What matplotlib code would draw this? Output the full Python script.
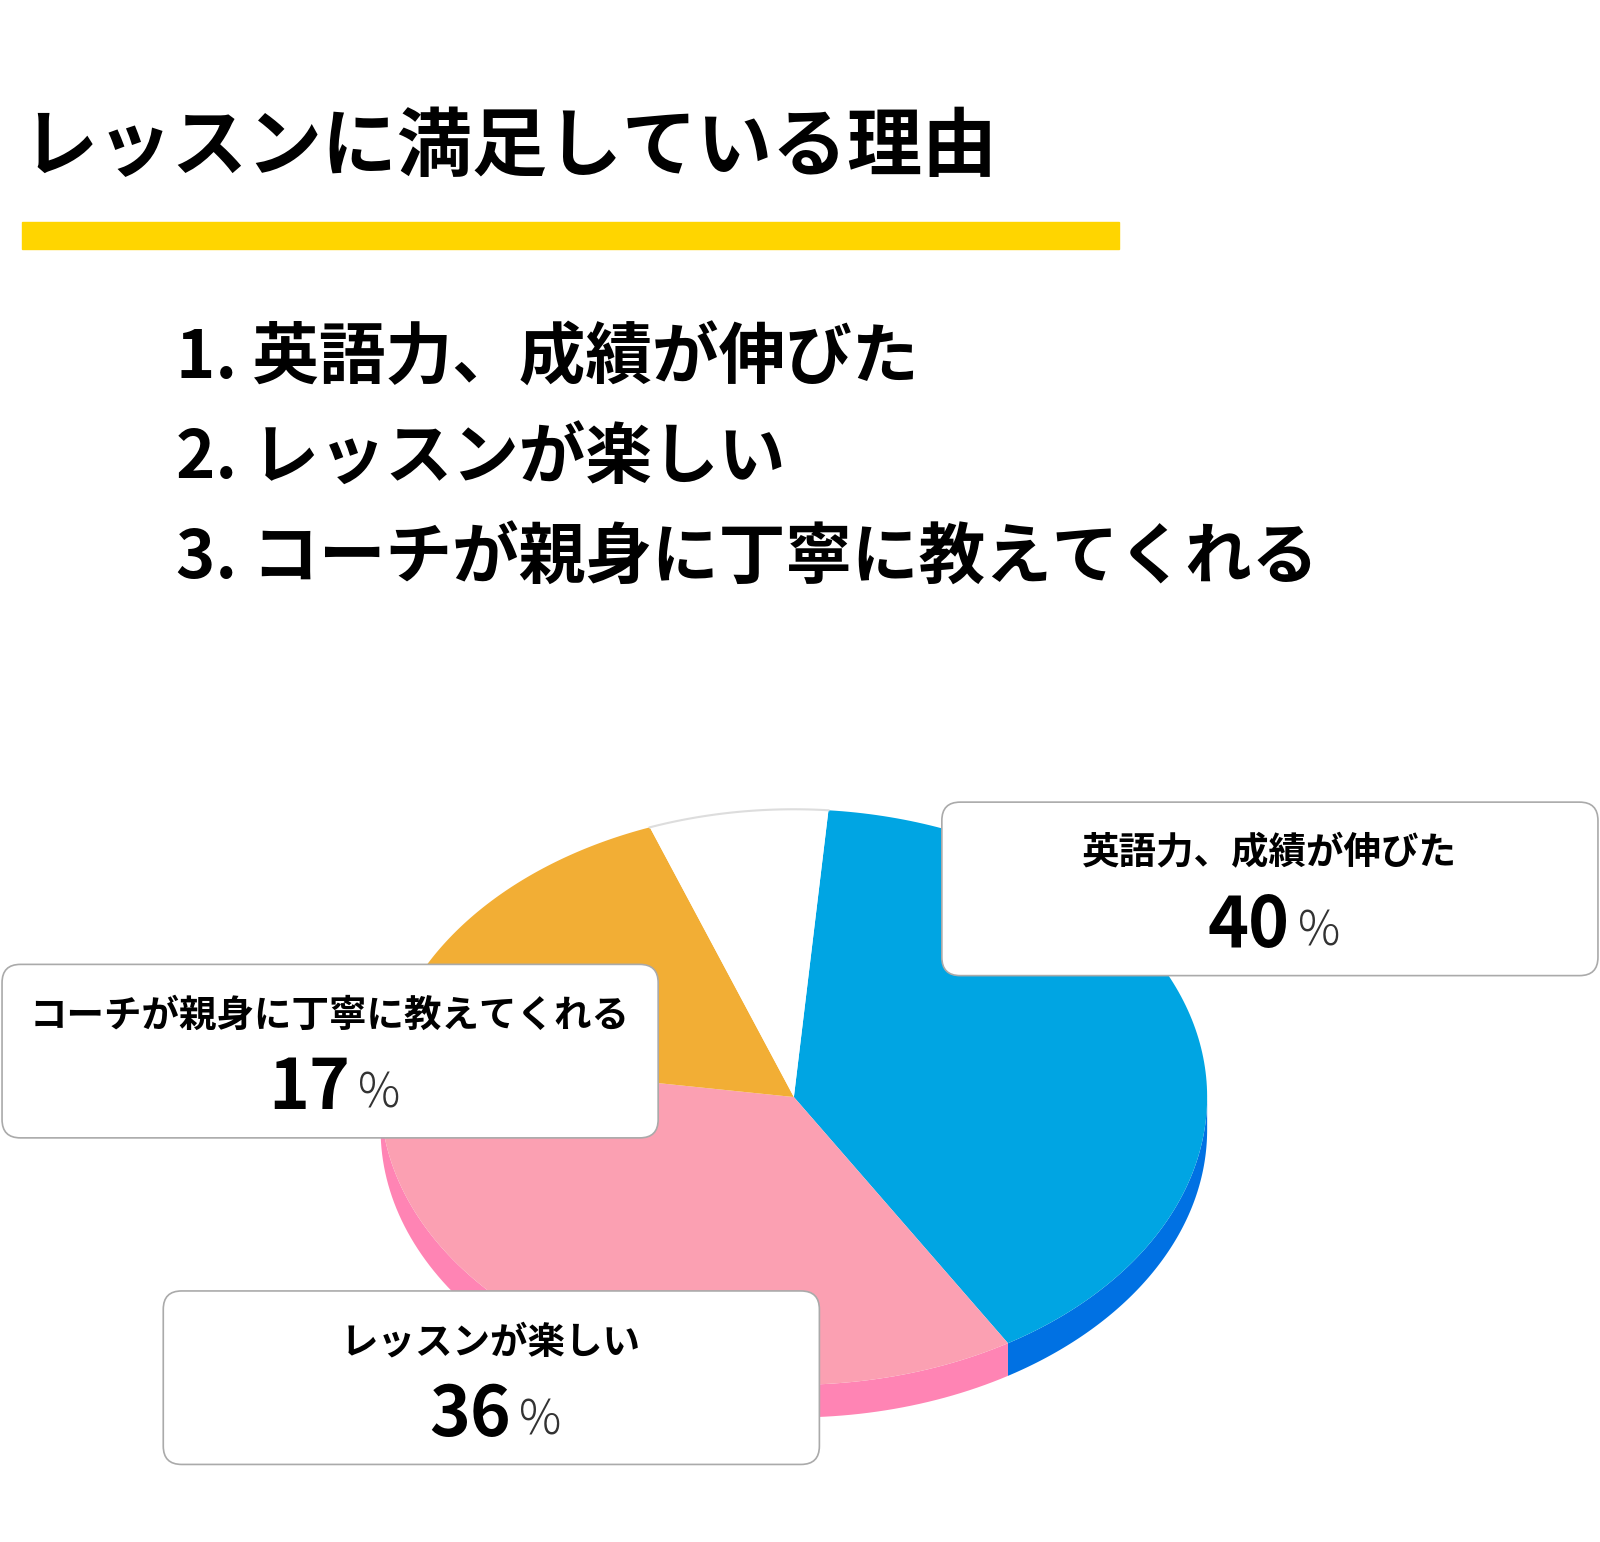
import matplotlib
matplotlib.use("Agg")
import matplotlib.pyplot as plt
import numpy as np
from matplotlib.patches import Polygon, FancyBboxPatch, Rectangle

plt.rcParams['font.family'] = ['Noto Sans CJK JP', 'DejaVu Sans']

title = "レッスンに満足している理由"
reasons = ["英語力、成績が伸びた", "レッスンが楽しい", "コーチが親身に丁寧に教えてくれる"]
labels = ["英語力、成績が伸びた", "レッスンが楽しい", "コーチが親身に丁寧に教えてくれる", ""]
values = [40, 36, 17, 7]
top_colors = ["#00A5E3", "#FBA0B2", "#F2AE35", "#FFFFFF"]
side_colors = ["#0071E3", "#FF84B4", "#E09A20", "#DDDDDD"]

W, H = 1568, 1511
fig = plt.figure(figsize=(16, 15.42), dpi=100)
ax = fig.add_axes([0, 0, 1, 1])
ax.set_xlim(0, W); ax.set_ylim(H, 0); ax.axis('off')

ax.text(22, 145, title, fontsize=54, fontweight='bold', va='center', ha='left')
ax.add_patch(Rectangle((22, 218), 1075, 26, color="#FFD500"))
for i, r in enumerate(reasons):
    ax.text(172, 352 + i * 98, f"{i+1}. {r}", fontsize=48, fontweight='bold', va='center', ha='left')

cx, cy, rx, ry, depth = 778, 1075, 405, 282, 32
def pt(th, dy=0):
    th = np.radians(th)
    return cx + rx * np.sin(th), cy - ry * np.cos(th) + dy

start = 4.8
angles = []
a = start
for v in values:
    angles.append((a, a + v * 3.6)); a += v * 3.6

for (a0, a1), c in zip(angles, side_colors):
    lo, hi = max(a0, 90), min(a1, 270)
    if lo < hi:
        ts = np.linspace(lo, hi, 100)
        top = [pt(t) for t in ts]
        bot = [pt(t, depth) for t in ts[::-1]]
        ax.add_patch(Polygon(top + bot, closed=True, color=c, lw=0))
for (a0, a1), c in zip(angles, top_colors):
    ts = np.linspace(a0, a1, 150)
    ax.add_patch(Polygon([(cx, cy)] + [pt(t) for t in ts], closed=True, color=c, lw=0))
# faint rim on white slice
a0, a1 = angles[3]
ts = np.linspace(a0, a1, 100)
xy = np.array([pt(t) for t in ts])
ax.plot(xy[:, 0], xy[:, 1], color="#DDDDDD", lw=1.5)

boxes = [(921, 786), (158, 1265), (0, 945)]
for (bx, by), lab, v in zip(boxes, labels[:3], values[:3]):
    ax.add_patch(FancyBboxPatch((bx + 2, by), 643, 170, boxstyle="round,pad=0,rounding_size=18",
                                fc="white", ec="#AAAAAA", lw=1.2))
    mx = bx + 323
    ax.text(mx, by + 50, lab, fontsize=27, fontweight='bold', ha='center', va='center')
    ax.text(mx + 20, by + 122, f"{v}", fontsize=50, fontweight='bold', ha='right', va='center')
    ax.text(mx + 28, by + 127, "%", fontsize=34, fontweight='light', ha='left', va='center', color="#333333")

fig.savefig("out.png", dpi=100)
